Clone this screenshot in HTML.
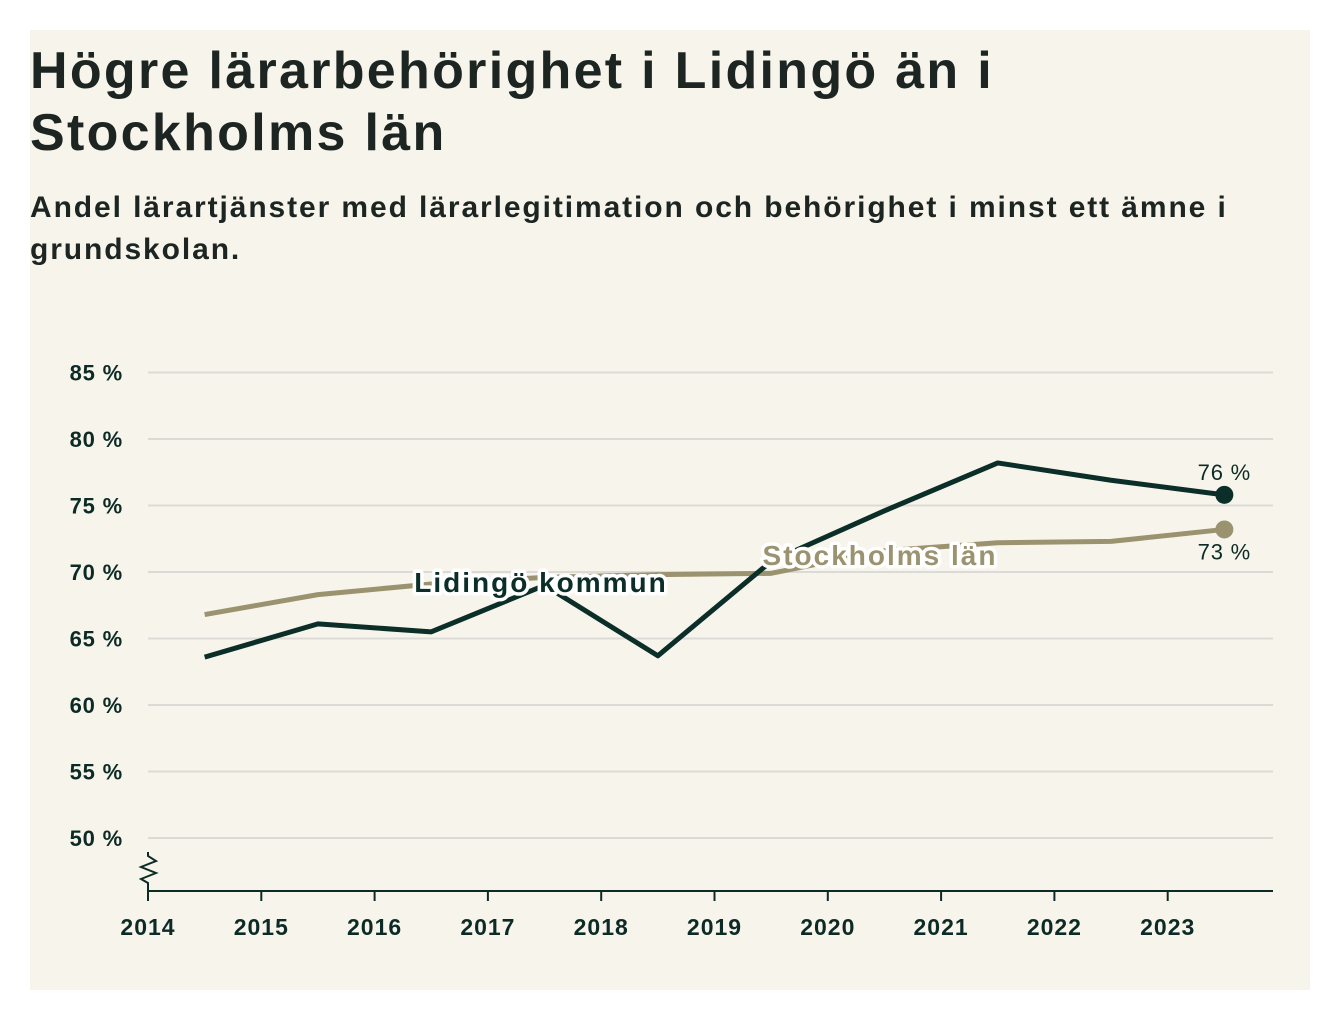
<!DOCTYPE html>
<html><head><meta charset="utf-8"><style>
body{margin:0;background:#fff;width:1340px;height:1020px;overflow:hidden;font-family:"Liberation Sans",sans-serif}
#panel{position:absolute;left:30px;top:30px;width:1280px;height:960px;background:#f7f5eb}
h1{position:absolute;left:0;top:10px;margin:0;font-size:52px;line-height:62px;font-weight:bold;color:#1d2522;letter-spacing:2.3px;white-space:nowrap}
h2{position:absolute;left:0;top:157px;margin:0;font-size:30px;line-height:42px;font-weight:bold;color:#1d2522;width:1275px;letter-spacing:1.9px}
svg{position:absolute;left:0;top:0}
</style></head><body>
<div id="panel">
<h1>Högre lärarbehörighet i Lidingö än i<br>Stockholms län</h1>
<h2>Andel lärartjänster med lärarlegitimation och behörighet i minst ett ämne i grundskolan.</h2>
</div>
<svg id="chart" width="1340" height="1020"></svg>
<script>
const years=[2014.5,2015.5,2016.5,2017.5,2018.5,2019.5,2020.5,2021.5,2022.5,2023.5];
const lidingo=[63.6,66.1,65.5,69.0,63.7,70.8,74.6,78.2,76.9,75.8];
const stockholm=[66.8,68.3,69.1,69.6,69.8,69.9,71.6,72.2,72.3,73.2];
const yTicks=[50,55,60,65,70,75,80,85];
const xTicks=[2014,2015,2016,2017,2018,2019,2020,2021,2022,2023];
const NS="http://www.w3.org/2000/svg";
const svg=document.getElementById('chart');
const X=v=>148+(v-2014)*113.3;
const Y=v=>838-(v-50)*13.3;
function el(t,a,txt){const e=document.createElementNS(NS,t);for(const k in a)e.setAttribute(k,a[k]);if(txt!=null)e.textContent=txt;svg.appendChild(e);return e;}
const tc="#0d2b26";
yTicks.forEach(v=>{
 const g=el('line',{x1:148,x2:1273,y1:Y(v),y2:Y(v),stroke:'#dcdad6','stroke-width':2});
 
 
 const t=el('text',{x:123,y:Y(v)+8,'text-anchor':'end','font-size':22,'font-weight':'bold','letter-spacing':0.8,fill:tc},v+' %');
 
 
});
const ax=el('line',{x1:148,x2:1273,y1:891,y2:891,stroke:tc,'stroke-width':2});


const br=el('path',{d:'M148,852 L148,856 L156,861 L141,867 L156,873 L141,879 L148,883 L148,891',fill:'none',stroke:tc,'stroke-width':2});


xTicks.forEach(v=>{
 const l=el('line',{x1:X(v),x2:X(v),y1:891,y2:901,stroke:tc,'stroke-width':2});
 
 
 const t=el('text',{x:X(v),y:935,'text-anchor':'middle','font-size':23,'font-weight':'bold','letter-spacing':1,fill:tc},v);
 
 
});
function pts(d){return d.map((v,i)=>X(years[i])+','+Y(v)).join(' ');}
const sl=el('polyline',{points:pts(stockholm),fill:'none',stroke:'#9b9370','stroke-width':5,'stroke-linejoin':'round'});


const ll=el('polyline',{points:pts(lidingo),fill:'none',stroke:'#0b2e28','stroke-width':5,'stroke-linejoin':'round'});


const n=years.length-1;
const sd=el('circle',{cx:X(years[n]),cy:Y(stockholm[n]),r:9,fill:'#9b9370'});


const ld=el('circle',{cx:X(years[n]),cy:Y(lidingo[n]),r:9,fill:'#0b2e28'});


const lv=el('text',{x:X(years[n]),y:Y(lidingo[n])-15,'text-anchor':'middle','font-size':22,'letter-spacing':0.8,fill:tc},Math.round(lidingo[n])+' %');


const sv=el('text',{x:X(years[n]),y:Y(stockholm[n])+30,'text-anchor':'middle','font-size':22,'letter-spacing':0.8,fill:tc},Math.round(stockholm[n])+' %');


const lab1=el('text',{x:541,y:592,'text-anchor':'middle','font-size':28,'font-weight':'bold','letter-spacing':2,fill:'#0b2e28',stroke:'#fff','stroke-width':7,'paint-order':'stroke','stroke-linejoin':'round'},'Lidingö kommun');


const lab2=el('text',{x:880,y:565,'text-anchor':'middle','font-size':28,'font-weight':'bold','letter-spacing':2,fill:'#9b9370',stroke:'#fff','stroke-width':7,'paint-order':'stroke','stroke-linejoin':'round'},'Stockholms län');


</script>
</body></html>
